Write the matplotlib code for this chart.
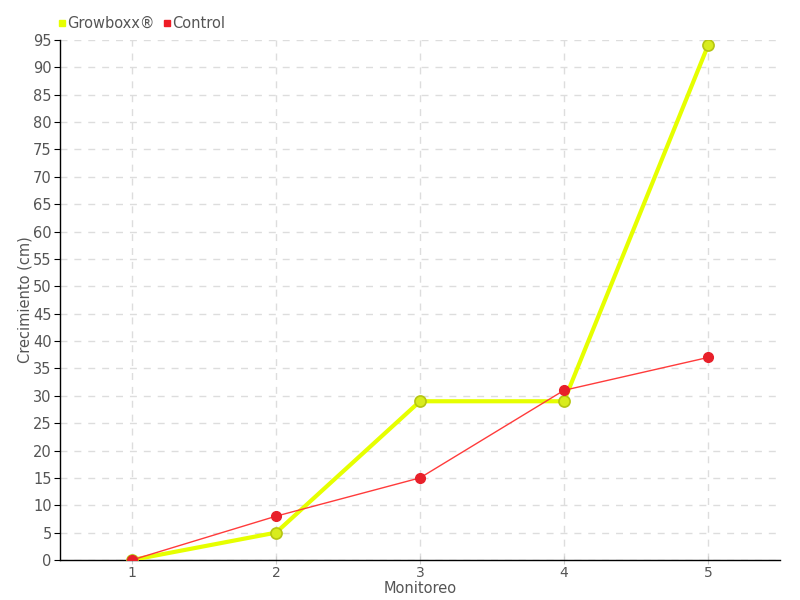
import matplotlib
matplotlib.use('Agg')
import matplotlib.pyplot as plt
from matplotlib.lines import Line2D

plt.rcParams['font.family'] = ['DejaVu Sans']

# data
monitoreo = [1, 2, 3, 4, 5]
growboxx = [0, 5, 29, 29, 94]
control = [0, 8, 15, 31, 37]
yticks = list(range(0, 100, 5))

TEXT = '#555555'
YELLOW = '#e6ff00'
RED = '#ff3b3b'

fig = plt.figure(figsize=(8, 6), dpi=100)
ax = fig.add_axes([0.075, 0.0667, 0.9, 0.8666])

ax.plot(monitoreo, growboxx, color=YELLOW, lw=3, zorder=3,
        marker='o', ms=8, mfc='#d8ec1e', mec='#b5c512', mew=1.2)
ax.plot(monitoreo, control, color=RED, lw=1, zorder=4,
        marker='o', ms=7, mfc='#e8202a', mec='#e8202a')

ax.set_xlim(0.5, 5.5)
ax.set_ylim(0, 95)
ax.set_xticks(monitoreo)
ax.set_yticks(yticks)
ax.grid(True, color='#dddddd', linestyle=(0, (5, 5)), lw=1)
ax.set_axisbelow(True)
for s in ['top', 'right']:
    ax.spines[s].set_visible(False)
for s in ['left', 'bottom']:
    ax.spines[s].set_color('black')
    ax.spines[s].set_linewidth(1)
ax.tick_params(axis='y', direction='out', length=4, labelsize=10.5, labelcolor=TEXT, pad=2)
ax.tick_params(axis='x', direction='inout', length=6, labelsize=10, labelcolor=TEXT, pad=1, color='#cccccc')

ax.set_ylabel('Crecimiento (cm)', fontsize=10.5, color=TEXT)
ax.yaxis.set_label_coords(-0.038, 0.5)
ax.set_xlabel('Monitoreo', fontsize=10.5, color=TEXT)
ax.xaxis.set_label_coords(0.5, -0.041)

handles = [Line2D([], [], ls='', marker='s', ms=5, color='#e6ff00'),
           Line2D([], [], ls='', marker='s', ms=5, color='#ee1c25')]
fig.legend(handles, ['Growboxx®', 'Control'], loc='upper left',
           bbox_to_anchor=(0.055, 0.995), ncol=2, frameon=False,
           fontsize=10.5, labelcolor=TEXT, handletextpad=0.1, columnspacing=0.5,
           handlelength=0.6)

fig.savefig('out.png', dpi=100)
